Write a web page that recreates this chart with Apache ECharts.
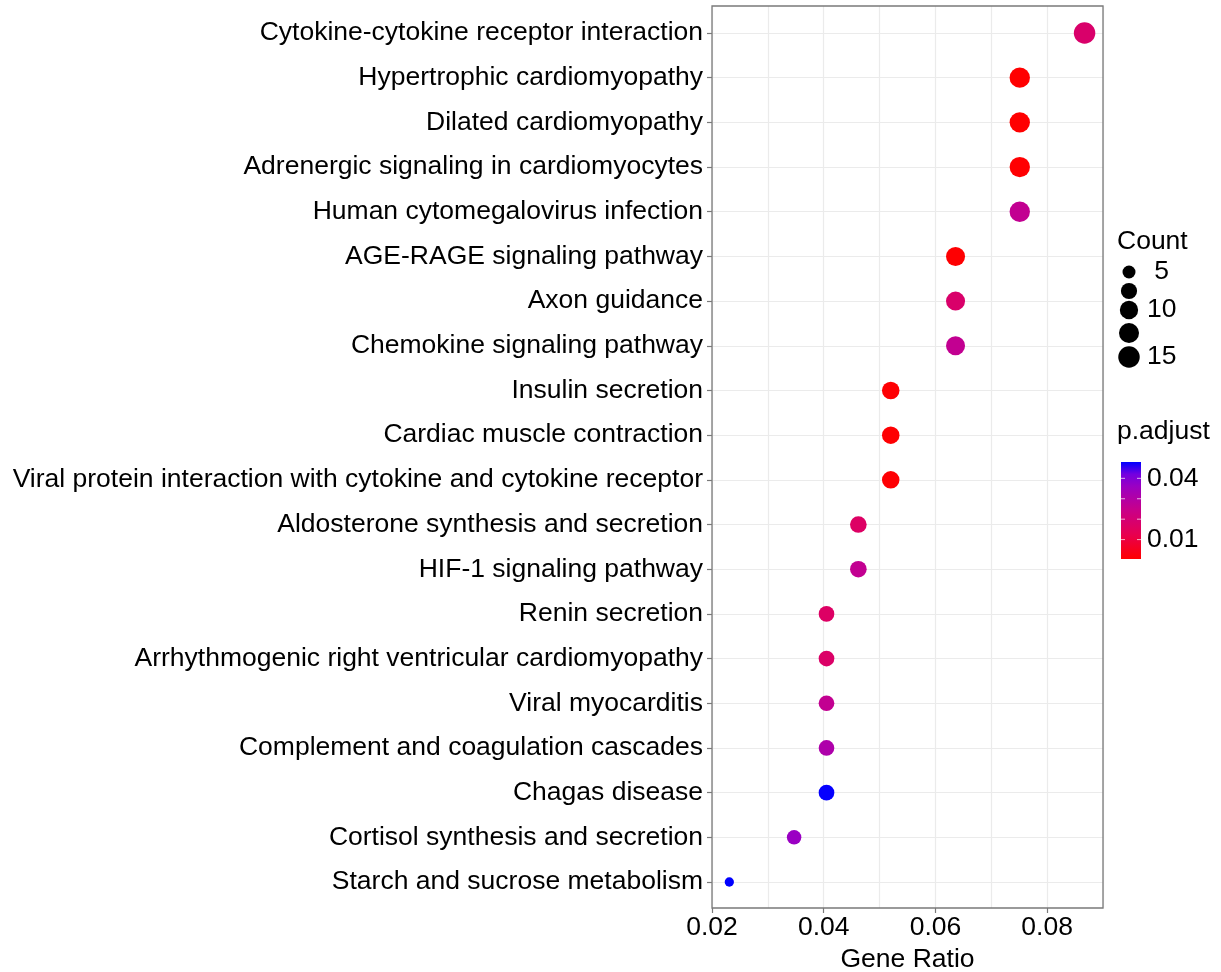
<!DOCTYPE html>
<html><head><meta charset="utf-8">
<script src="https://cdn.jsdelivr.net/npm/echarts@6/dist/echarts.min.js"></script>
<style>html,body{margin:0;padding:0;background:#fff}#c{width:1221px;height:972px}</style>
</head><body><div id="c"></div>
<script>
const categories = [
  'Cytokine-cytokine receptor interaction',
  'Hypertrophic cardiomyopathy',
  'Dilated cardiomyopathy',
  'Adrenergic signaling in cardiomyocytes',
  'Human cytomegalovirus infection',
  'AGE-RAGE signaling pathway',
  'Axon guidance',
  'Chemokine signaling pathway',
  'Insulin secretion',
  'Cardiac muscle contraction',
  'Viral protein interaction with cytokine and cytokine receptor',
  'Aldosterone synthesis and secretion',
  'HIF-1 signaling pathway',
  'Renin secretion',
  'Arrhythmogenic right ventricular cardiomyopathy',
  'Viral myocarditis',
  'Complement and coagulation cascades',
  'Chagas disease',
  'Cortisol synthesis and secretion',
  'Starch and sucrose metabolism'
];
const geneRatio = [0.0867, 0.0751, 0.0751, 0.0751, 0.0751, 0.0636, 0.0636, 0.0636, 0.0520, 0.0520, 0.0520, 0.0462, 0.0462, 0.0405, 0.0405, 0.0405, 0.0405, 0.0405, 0.0347, 0.0231];
const counts = [15, 13, 13, 13, 13, 11, 11, 11, 9, 9, 9, 8, 8, 7, 7, 7, 7, 7, 6, 4];
const pAdjust = [0.0145, 0.0006, 0.0006, 0.0007, 0.021, 0.0008, 0.0145, 0.021, 0.0009, 0.0009, 0.001, 0.0135, 0.021, 0.0135, 0.014, 0.021, 0.025, 0.0476, 0.029, 0.048];
const xTickLabels = ['0.02', '0.04', '0.06', '0.08'];
const sizeBreaks = [5, 7.5, 10, 12.5, 15];
const sizeLabels = [' 5', '', '10', '', '15'];
const colorLabelValues = [0.04, 0.01];
const colorTickValues = [0.01, 0.02, 0.03, 0.04];

const PMIN = 0.0005, PMAX = 0.048;
const gradColors = ['#FF0000', '#E8004F', '#C90088', '#9A00C3', '#7300E0', '#0000FF'];
const gradOffsets = [0, 0.25, 0.5, 0.75, 0.875, 1];
const FONT = "'Liberation Sans', Arial, sans-serif";
const FS = 26.5;

const cMin = Math.min(...counts), cMax = Math.max(...counts);
function dia(c) { return 9.3 + 12.2 * Math.sqrt(Math.max(0, (c - cMin) / (cMax - cMin))); }

const data = categories.map((c, i) => [geneRatio[i], c, counts[i], pAdjust[i]]);

const L = 712, R = 118, TOP0 = 6, BOT0 = 64, TOP1 = 33, BOT1 = 90;
const gridColor = '#ebebeb', borderColor = '#7a7a7a';

const legX = 1117;
const dotX = 1129;
const dotY = [272, 291, 310, 333, 357];
const barX = 1121, barTop = 462, barW = 20, barH = 97;
const yOfP = v => barTop + (PMAX - v) / (PMAX - PMIN) * barH;

const graphics = [];
graphics.push({type: 'text', x: legX, y: 242, style: {text: 'Count', fontSize: FS, fontFamily: FONT, fill: '#000', verticalAlign: 'middle'}});
sizeBreaks.forEach((s, i) => {
  graphics.push({type: 'circle', shape: {cx: dotX, cy: dotY[i], r: dia(s) / 2}, style: {fill: '#000'}});
  if (sizeLabels[i]) graphics.push({type: 'text', x: 1147, y: dotY[i], style: {text: sizeLabels[i], fontSize: FS, fontFamily: FONT, fill: '#000', verticalAlign: 'middle'}});
});
graphics.push({type: 'text', x: legX, y: 432, style: {text: 'p.adjust', fontSize: FS, fontFamily: FONT, fill: '#000', verticalAlign: 'middle'}});
graphics.push({type: 'rect', shape: {x: barX, y: barTop, width: barW, height: barH}, style: {
  fill: new echarts.graphic.LinearGradient(0, 1, 0, 0, gradColors.map((c, i) => ({offset: gradOffsets[i], color: c})))
}});
colorTickValues.forEach(v => {
  const y = yOfP(v);
  graphics.push({type: 'line', shape: {x1: barX, y1: y, x2: barX + 4, y2: y}, style: {stroke: '#fff', lineWidth: 1, opacity: 0.7}});
  graphics.push({type: 'line', shape: {x1: barX + barW - 4, y1: y, x2: barX + barW, y2: y}, style: {stroke: '#fff', lineWidth: 1, opacity: 0.7}});
});
colorLabelValues.forEach(v => {
  graphics.push({type: 'text', x: 1147, y: yOfP(v), style: {text: v.toFixed(2), fontSize: FS, fontFamily: FONT, fill: '#000', verticalAlign: 'middle'}});
});

const chart = echarts.init(document.getElementById('c'), null, {renderer: 'canvas'});
chart.setOption({
  animation: false,
  backgroundColor: '#fff',
  textStyle: {fontFamily: FONT},
  grid: [
    {left: L, right: R, top: TOP0, bottom: BOT0, show: true, borderColor: borderColor, borderWidth: 1.3, backgroundColor: 'transparent', z: 5, containLabel: false, outerBoundsMode: 'none'},
    {left: L, right: R, top: TOP1, bottom: BOT1, show: false, containLabel: false, outerBoundsMode: 'none'}
  ],
  xAxis: [
    {type: 'value', gridIndex: 0, min: 0.02, max: 0.09, interval: 0.01,
      axisLine: {show: false}, axisTick: {show: false}, axisLabel: {show: false},
      splitLine: {show: true, lineStyle: {color: gridColor, width: 1.2}}},
    {type: 'value', gridIndex: 0, min: 0.02, max: 0.09, interval: 0.02, position: 'bottom',
      axisLine: {show: false}, axisTick: {show: true, length: 5, lineStyle: {color: borderColor, width: 1.2}},
      axisLabel: {show: true, showMaxLabel: false, fontSize: FS, color: '#000', margin: 6, fontFamily: FONT,
        formatter: v => { const s = v.toFixed(2); return xTickLabels.includes(s) ? s : ''; }},
      splitLine: {show: false},
      name: 'Gene Ratio', nameLocation: 'middle', nameGap: 36,
      nameTextStyle: {fontSize: FS, color: '#000', fontFamily: FONT}},
    {type: 'value', gridIndex: 1, min: 0.02, max: 0.09, show: false}
  ],
  yAxis: [
    {type: 'value', gridIndex: 0, min: 0, max: 1, show: false},
    {type: 'category', gridIndex: 1, data: categories, inverse: true, boundaryGap: false,
      axisLine: {show: false},
      axisTick: {show: true, length: 5, lineStyle: {color: borderColor, width: 1.2}},
      axisLabel: {fontSize: FS, color: '#000', margin: 9, fontFamily: FONT, interval: 0},
      splitLine: {show: true, lineStyle: {color: gridColor, width: 1.2}}}
  ],
  visualMap: {type: 'continuous', show: false, dimension: 3, seriesIndex: 0, min: PMIN, max: PMAX,
    inRange: {color: gradColors}},
  series: [{
    type: 'scatter', xAxisIndex: 2, yAxisIndex: 1, data: data,
    symbolSize: v => dia(v[2]),
    itemStyle: {opacity: 1}, z: 10
  }],
  graphic: graphics
});
</script></body></html>
